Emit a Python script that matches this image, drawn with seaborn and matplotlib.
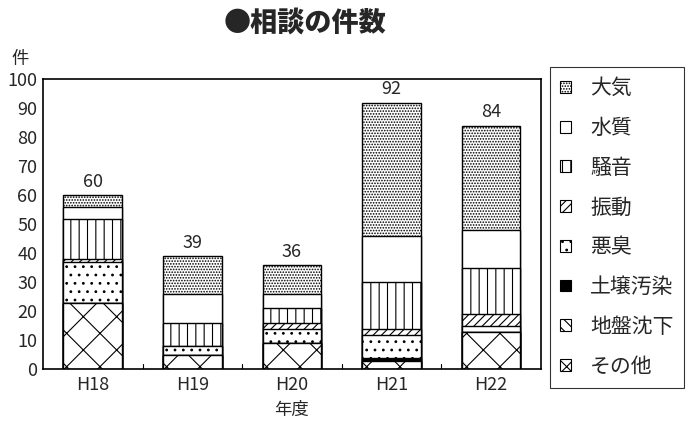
import matplotlib
matplotlib.use("Agg")
import matplotlib.pyplot as plt
import matplotlib.patches as mpatches
import numpy as np
import pandas as pd
import seaborn as sns

# 年度別・種類別の相談件数
years = ["H18", "H19", "H20", "H21", "H22"]
sonota = [23, 5, 9, 3, 13]          # その他
jiban = [0, 0, 0, 0, 0]             # 地盤沈下
dojo = [0, 0, 0, 1, 0]              # 土壌汚染
akushu = [14, 3, 5, 8, 2]           # 悪臭
shindo = [1, 0, 2, 2, 4]            # 振動
soon = [14, 8, 5, 16, 16]           # 騒音
suishitsu = [4, 10, 5, 16, 13]      # 水質
taiki = [4, 13, 10, 46, 36]         # 大気

# 積み上げ順（下から）
categories = ["その他", "地盤沈下", "土壌汚染", "悪臭", "振動", "騒音", "水質", "大気"]
series = [sonota, jiban, dojo, akushu, shindo, soon, suishitsu, taiki]
hatches = ["x", "\\\\\\", "", "..", "////", "||", "", "......"]
legend_hatches = ["xx", "\\\\\\", "", "..", "////", "||", "", "......"]
faces = ["white", "white", "black", "white", "white", "white", "white", "white"]

sns.set_style("white")
plt.rcParams["font.family"] = ["Noto Sans CJK JP", "DejaVu Sans"]
plt.rcParams["hatch.linewidth"] = 0.8

fig = plt.figure(figsize=(6.88, 4.21), dpi=100)
ax = fig.add_axes([0.0625, 0.1228, 0.7235, 0.6888])

cum = np.cumsum(np.array(series), axis=0)

# 上の層から順に累積値の棒を重ねて描く
for i in range(len(categories) - 1, -1, -1):
    df = pd.DataFrame({"年度": years, "件数": cum[i]})
    sns.barplot(data=df, x="年度", y="件数", ax=ax, color=faces[i],
                saturation=1, width=0.59, edgecolor="black", linewidth=1.0,
                hatch=hatches[i], errorbar=None)

totals = cum[-1]
for xi, t in enumerate(totals):
    ax.text(xi, t + 1.5, f"{t}", ha="center", va="bottom", fontsize=13)

ax.set_ylim(0, 100)
ax.set_xlim(-0.5, len(years) - 0.5)
ax.set_yticks(range(0, 101, 10))
ax.tick_params(axis="y", direction="in", length=4, labelsize=13, pad=4, width=0.8)
ax.set_xticks(range(len(years)))
ax.set_xticklabels(years, fontsize=13)
ax.tick_params(axis="x", length=0, pad=5)
for b in np.arange(0.5, len(years) - 0.5, 1.0):
    ax.plot([b, b], [0, 2], color="black", lw=0.8)
for s in ax.spines.values():
    s.set_color("black")
    s.set_linewidth(1.2)
ax.set_xlabel("年度", fontsize=12.5, labelpad=5)
ax.set_ylabel("")
ax.grid(False)

fig.text(0.03, 0.86, "件", fontsize=12.5, ha="center", va="center")
fig.text(0.443, 0.946, "●相談の件数", fontsize=19.5, fontweight="heavy",
         ha="center", va="center")

handles = [mpatches.Patch(facecolor=faces[i], edgecolor="black",
                          hatch=legend_hatches[i], linewidth=0.8, label=categories[i])
           for i in range(len(categories) - 1, -1, -1)]
leg = fig.legend(handles=handles, loc="upper left", bbox_to_anchor=(0.799, 0.841),
                 borderaxespad=0, frameon=True, fancybox=False, fontsize=15,
                 handlelength=0.5, handleheight=0.5, handletextpad=0.95,
                 labelspacing=0.85, borderpad=0.5)
leg.get_frame().set_edgecolor("black")
leg.get_frame().set_linewidth(0.8)

fig.savefig("out.png", dpi=100)
